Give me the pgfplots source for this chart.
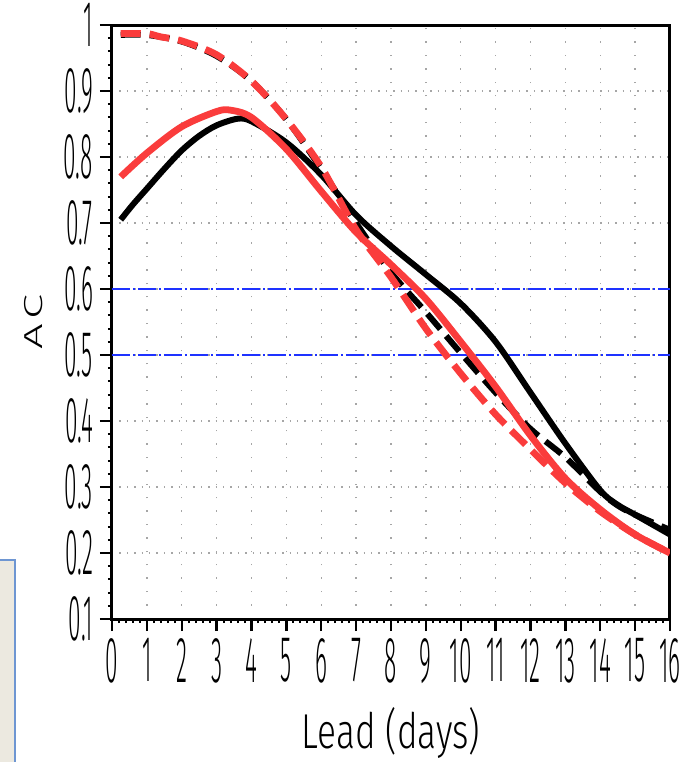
\documentclass[border=0pt]{standalone}
\usepackage{fontspec}
\setmainfont{Fira Sans Light}[FakeStretch=0.35]
\newfontfamily\labfont{Fira Sans Light}[FakeStretch=0.72]
\newfontfamily\acfont{Fira Sans Light}[FakeStretch=1.75]
\usepackage{pgfplots}
\pgfplotsset{compat=1.18}
\definecolor{acred}{RGB}{250,60,60}
\definecolor{acblue}{RGB}{30,50,255}
\definecolor{boxfill}{RGB}{236,233,224}
\definecolor{boxedge}{RGB}{110,150,210}

\begin{document}
\begin{tikzpicture}
\useasboundingbox (-56pt,-71.5pt) rectangle (293.5pt,309.5pt);
% cut-off panel at the lower left
\fill[boxfill] (-57pt,-72pt) rectangle (-48.5pt,29.5pt);
\draw[boxedge, line width=1pt] (-57pt,29.5pt) -- (-48.5pt,29.5pt) -- (-48.5pt,-72pt);
\begin{axis}[
    scale only axis, width=279pt, height=297pt,
    xmin=0, xmax=16, ymin=0.1, ymax=1,
    xtick={0,...,16},
    ytick={0.1,0.2,0.3,0.4,0.5,0.6,0.7,0.8,0.9,1},
    minor tick num=4,
    tick pos=left, tick align=outside,
    major tick length=6pt, minor tick length=2pt,
    grid=major,
    x grid style={gray!70, line width=0.7pt, dash pattern=on 0.7pt off 6pt},
    y grid style={gray!70, line width=0.7pt, dash pattern=on 0.7pt off 3pt},
    axis line style={line width=1.5pt},
    tick style={line width=1.2pt, black},
    minor tick style={line width=1pt},
    /pgf/number format/assume math mode=true,
    ticklabel style={font=\fontsize{32.5}{32.5}\selectfont},
    xlabel={Lead (days)},
    ylabel={A\hspace{2pt}C},
    xlabel style={font=\labfont\fontsize{24.5}{24.5}\selectfont, at={(axis description cs:0.5,-0.218)}, anchor=base},
    ylabel style={font=\acfont\fontsize{13}{13}\selectfont, at={(axis description cs:-0.14,0.5)}, anchor=center},
]
% reference levels
\addplot[acblue, line width=1.2pt, dash pattern=on 9pt off 1.5pt on 1pt off 1.5pt] coordinates {(0,0.6) (16,0.6)};
\addplot[acblue, line width=1.2pt, dash pattern=on 9pt off 1.5pt on 1pt off 1.5pt] coordinates {(0,0.5) (16,0.5)};

% black dashed
\addplot[black, line width=3pt, dash pattern=on 10pt off 4.5pt, smooth] coordinates {
 (0.25,0.985) (1,0.985) (2,0.975) (3,0.953) (4,0.915) (5,0.857) (6,0.782) (7,0.70)
 (8,0.625) (9,0.565) (10,0.503) (11,0.443) (12,0.388) (13,0.345) (14,0.293)
 (14.5,0.272) (15,0.258) (16,0.235)
};
% black solid
\addplot[black, line width=3pt, smooth] coordinates {
 (0.25,0.705) (0.6,0.728) (1,0.752) (1.5,0.782) (2,0.81) (2.5,0.832) (3,0.848) (3.6,0.858)
 (4,0.854) (5,0.822) (6,0.773) (7,0.712) (8,0.665) (9,0.622) (10,0.578) (11,0.52)
 (12,0.443) (13,0.366) (14,0.295) (14.5,0.273) (15,0.258) (16,0.228)
};
% red solid
\addplot[acred, line width=3.4pt, smooth] coordinates {
 (0.25,0.77) (1,0.806) (2,0.846) (3,0.869) (3.4,0.871) (4,0.86) (5,0.812) (6,0.748)
 (7,0.686) (8,0.637) (9,0.585) (10,0.52) (11,0.452) (12,0.378) (13,0.313) (14,0.266)
 (15,0.228) (16,0.2)
};
% red dashed
\addplot[acred, line width=3.4pt, dash pattern=on 10pt off 4.5pt, smooth] coordinates {
 (0.25,0.987) (1,0.987) (1.4,0.982) (2,0.976) (3,0.955) (4,0.915) (5,0.857) (6,0.785)
 (7,0.69) (8,0.618) (9,0.54) (10,0.472) (11,0.41) (12,0.357) (13,0.306) (14,0.263)
 (15,0.228) (16,0.2)
};
\end{axis}
\end{tikzpicture}
\end{document}
